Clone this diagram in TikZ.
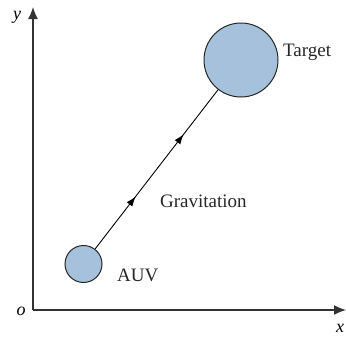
\documentclass[tikz,border=0pt]{standalone}
\usepackage{fontspec}
\setmainfont{Liberation Serif}
\usetikzlibrary{arrows.meta,decorations.markings}
\definecolor{ballblue}{HTML}{A6C1DB}
\begin{document}
\begin{tikzpicture}[x=1pt,y=-1pt,
  axis/.style={line width=1.4pt,draw=black!80,-{Latex[length=12pt,width=10pt]}},
  ball/.style={circle,draw=black!85,line width=1pt,fill=ballblue,inner sep=0pt},
  lbl/.style={font=\fontsize{19}{21}\selectfont,inner sep=0pt,anchor=base west,text=black!85},
  mlbl/.style={font=\fontsize{18}{20}\selectfont\itshape,inner sep=0pt},
  link/.style={line width=0.9pt,postaction={decorate},decoration={markings,
    mark=at position 0.33 with {\arrow{Latex[length=10pt,width=7pt]}},
    mark=at position 0.72 with {\arrow{Latex[length=10pt,width=7pt]}}}}]
\useasboundingbox (0,0) rectangle (346,338);
\coordinate (o) at (33,310);
\coordinate (xend) at (346,310);
\coordinate (yend) at (33,7);
\draw[axis] (o) -- (xend);
\draw[axis] (o) -- (yend);
\node[mlbl] (ylab) at (17,17) {y};
\node[mlbl] (olab) at (21,311) {o};
\node[mlbl] (xlab) at (340,328) {x};
\node[ball,minimum size=74pt] (target) at (241,60) {};
\node[ball,minimum size=37pt] (auv) at (83.5,264) {};
\draw[link] (auv) -- (target);
\node[lbl] (tlab) at (283,56) {Target};
\node[lbl] (glab) at (160,207) {Gravitation};
\node[lbl] (alab) at (117,281) {AUV};
\end{tikzpicture}
\end{document}
